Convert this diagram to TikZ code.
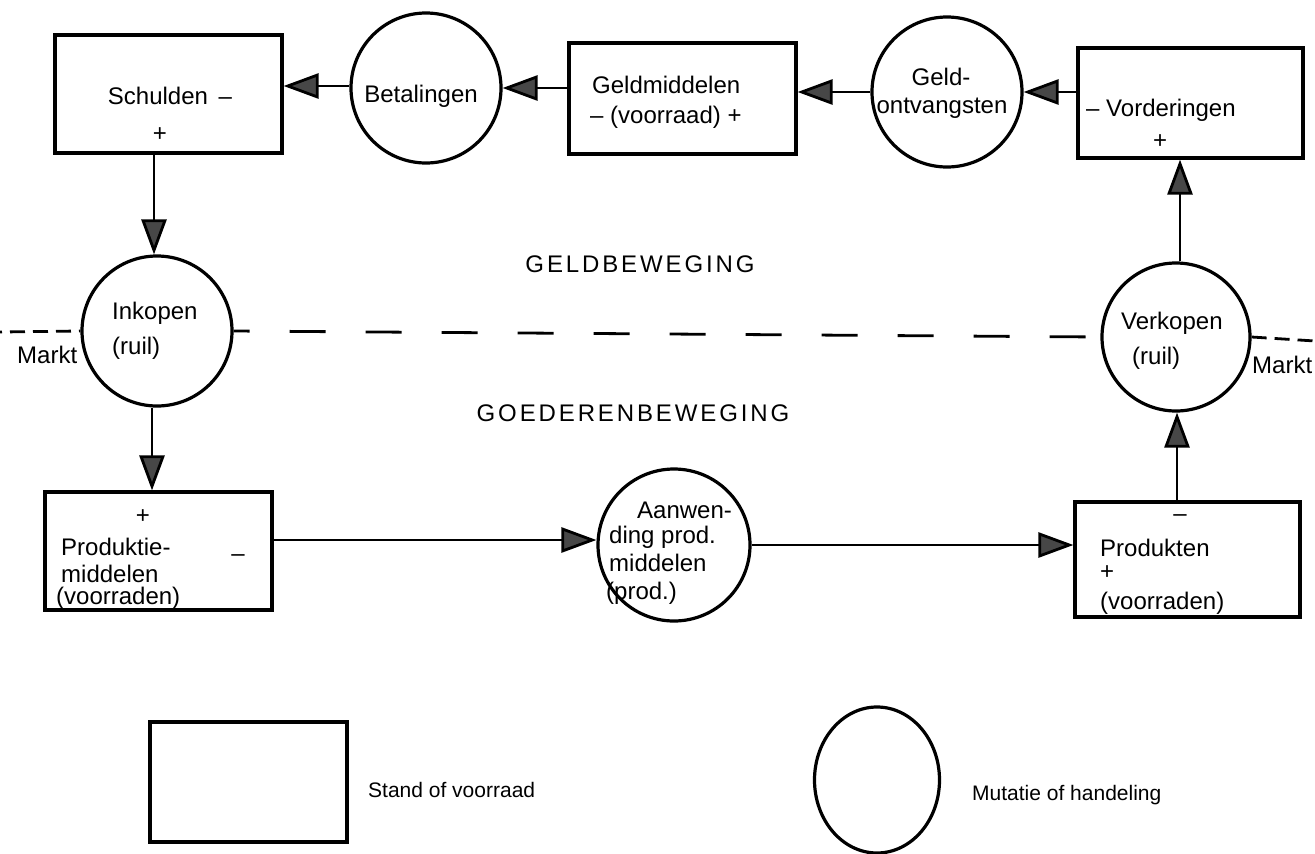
\documentclass[tikz,border=0pt]{standalone}
\usepackage{fontspec}
\setmainfont{Liberation Sans}
\usetikzlibrary{arrows.meta,shapes.geometric}
\begin{document}
\begin{tikzpicture}[x=1pt,y=-1pt,
 box/.style={draw,line width=3.2pt,rectangle,inner sep=0pt,fill=white},
 circ/.style={draw,line width=3.2pt,circle,inner sep=0pt,minimum size=150pt,fill=white},
 txt/.style={inner sep=0pt,font=\fontsize{24}{28}\selectfont},
 ltxt/.style={txt,anchor=west},
 legtxt/.style={inner sep=0pt,anchor=west,font=\fontsize{21}{25}\selectfont},
 arr/.style={line width=2.8pt,-{Triangle[length=35pt,width=25pt,fill=black!72]}},
 marktline/.style={line width=2.8pt},
 headtxt/.style={inner sep=0pt,font=\fontsize{24}{28}\selectfont\addfontfeature{LetterSpace=12}}
]
\useasboundingbox (0,0) rectangle (1315,854);

% market line ends
\coordinate (mL) at (0,332);
\coordinate (mR) at (1315,341);

% boxes
\node[box,minimum width=227pt,minimum height=118pt] (schul) at (168.5,94) {};
\node[box,minimum width=227pt,minimum height=111pt] (geld) at (682.5,98.5) {};
\node[box,minimum width=225pt,minimum height=110pt] (vord) at (1190.5,103) {};
\node[box,minimum width=227pt,minimum height=118pt] (prodm) at (158.5,551) {};
\node[box,minimum width=225pt,minimum height=115pt] (prodk) at (1187.5,559.5) {};

% circles
\node[circ] (bet) at (426,88) {};
\node[circ] (go) at (947,92) {};
\node[circ] (ink) at (157,331) {};
\node[circ,minimum size=148pt] (verk) at (1176,337) {};
\node[circ,minimum size=152pt] (aanw) at (674,545) {};

% market dashed line
\draw[marktline,dash pattern=on 15pt off 8pt,dash phase=-10pt] (mL) -- (ink.west);
\draw[marktline,dash pattern=on 36pt off 40pt,dash phase=20pt] (ink.east) -- (verk.west);
\draw[marktline,dash pattern=on 15pt off 8pt] (verk.east) -- (mR);

% texts in boxes
\node[txt] (tschul) at (170,96) {Schulden \,–};
\node[txt] (tschulp) at (160,135) {+};
\node[ltxt] (tgeld1) at (592,85) {Geldmiddelen};
\node[ltxt] (tgeld2) at (590,117) {– (voorraad) +};
\node[ltxt] (tvord1) at (1086,110) {– Vorderingen};
\node[txt] (tvord2) at (1160,142) {+};
\node[txt] (tpm0) at (143,517) {+};
\node[ltxt] (tpm1) at (61,547) {Produktie-};
\node[ltxt] (tpm2) at (61,574) {middelen};
\node[ltxt] (tpm3) at (56,598) {(voorraden)};
\node[txt] (tpm4) at (238,558) {–};
\node[txt] (tpk0) at (1180,518) {–};
\node[ltxt] (tpk1) at (1100,548) {Produkten};
\node[ltxt] (tpk2) at (1100,573) {+};
\node[ltxt] (tpk3) at (1100,603) {(voorraden)};

% texts in circles
\node[txt] (tbet) at (421,96) {Betalingen};
\node[txt] (tgo1) at (941,77) {Geld-};
\node[txt] (tgo2) at (942,108) {ontvangsten};
\node[ltxt] (tink1) at (112,313) {Inkopen};
\node[ltxt] (tink2) at (112,348) {(ruil)};
\node[ltxt] (tverk1) at (1121,323) {Verkopen};
\node[ltxt] (tverk2) at (1132,358) {(ruil)};
\node[ltxt] (taw1) at (637,510) {Aanwen-};
\node[ltxt] (taw2) at (609,537) {ding prod.};
\node[ltxt] (taw3) at (609,563) {middelen};
\node[ltxt] (taw4) at (606,593) {(prod.)};

% market labels
\node[ltxt] (markt1) at (17,355) {Markt};
\node[ltxt] (markt2) at (1252,365) {Markt};

% headings
\node[headtxt] (hgeld) at (640,264) {GELDBEWEGING};
\node[headtxt] (hgoed) at (633,413) {GOEDERENBEWEGING};

% connectors
\draw[arr] (bet.west |- 0,86) -- (schul.east |- 0,86);
\draw[arr] (geld.west |- 0,88) -- (bet.east);
\draw[arr] (go.west) -- (go.west -| geld.east);
\draw[arr] (vord.west |- go.east) -- (go.east);
\draw[arr] (verk.north -| 1180,0) -- (vord.south -| 1180,0);
\draw[arr] (schul.south -| 154,0) -- (ink.north -| 154,0);
\draw[arr] (ink.south -| 152,0) -- (prodm.north -| 152,0);
\draw[arr] (prodm.east |- 0,540) -- (aanw.west |- 0,540);
\draw[arr] (aanw.east) -- (aanw.east -| prodk.west);
\draw[arr] (prodk.north -| 1177,0) -- (verk.south -| 1177,0);

% legend
\node[box,minimum width=197pt,minimum height=120pt] (legbox) at (248.5,782) {};
\node[legtxt] (legboxt) at (368,790) {Stand of voorraad};
\node[draw,line width=3.2pt,ellipse,inner sep=0pt,minimum width=125pt,minimum height=146pt] (legell) at (877,780) {};
\node[legtxt] (legellt) at (972,795) {Mutatie of handeling};
\end{tikzpicture}
\end{document}
